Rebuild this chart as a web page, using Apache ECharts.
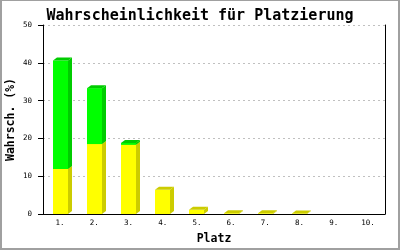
<!DOCTYPE html>
<html><head><meta charset="utf-8">
<script src="https://cdn.jsdelivr.net/npm/echarts@6/dist/echarts.min.js"></script>
<style>html,body{margin:0;padding:0;background:#fff}#c{width:400px;height:250px}</style>
</head><body><div id="c"></div>
<script>
var categories = ['1.', '2.', '3.', '4.', '5.', '6.', '7.', '8.', '9.', '10.'];
var yellowValues = [11.9, 18.5, 18.3, 6.4, 1.1, 0.2, 0.2, 0.15, 0, 0];
var greenValues = [28.7, 14.8, 0.5, 0, 0, 0, 0, 0, 0, 0];
var yTicks = [0, 10, 20, 30, 40, 50];

var FRONT = ['#ffff00', '#00ff00'];
var SIDE = ['#cccc00', '#00cc00'];
var DX = 4, DY = 3;

var data = categories.map(function (c, i) { return [i, yellowValues[i], greenValues[i]]; });

function renderItem(params, api) {
  var i = api.value(0);
  var vals = [api.value(1), api.value(2)];
  var band = api.size([1, 0])[0];
  var w = Math.round(band * 0.44);
  var cx = api.coord([i, 0])[0];
  var x0 = Math.round(cx - w / 2), x1 = x0 + w;
  var children = [];
  var base = 0;
  for (var s = 0; s < 2; s++) {
    var v = vals[s];
    if (!(v > 0)) continue;
    var yb = api.coord([i, base])[1];
    var yt = api.coord([i, base + v])[1];
    children.push({ type: 'rect', shape: { x: x0, y: yt, width: w, height: yb - yt }, style: { fill: FRONT[s] } });
    children.push({ type: 'polygon', shape: { points: [[x1, yb], [x1, yt], [x1 + DX, yt - DY], [x1 + DX, yb - DY]] }, style: { fill: SIDE[s] } });
    children.push({ type: 'polygon', shape: { points: [[x0, yt], [x0 + DX, yt - DY], [x1 + DX, yt - DY], [x1, yt]] }, style: { fill: SIDE[s] } });
    base += v;
  }
  return { type: 'group', children: children };
}

var chart = echarts.init(document.getElementById('c'), null, { renderer: 'canvas' });
var MONO = '"DejaVu Sans Mono", "Liberation Mono", monospace';
chart.setOption({
  animation: false,
  backgroundColor: '#ffffff',
  title: {
    text: 'Wahrscheinlichkeit für Platzierung',
    left: 'center', top: 4,
    textStyle: { fontFamily: MONO, fontSize: 15, fontWeight: 'bold', color: '#000' }
  },
  grid: { left: 43, right: 15, top: 25, bottom: 36, containLabel: false, outerBoundsMode: 'none' },
  xAxis: {
    type: 'category', data: categories,
    name: 'Platz', nameLocation: 'middle', nameGap: 19, nameMoveOverlap: false,
    nameTextStyle: { fontFamily: MONO, fontSize: 11.5, fontWeight: 'bold', color: '#000' },
    axisLine: { lineStyle: { color: '#000', width: 1 } },
    axisTick: { show: false },
    axisLabel: { fontFamily: MONO, fontSize: 7.5, color: '#000', margin: 5 }
  },
  yAxis: [{
    type: 'value', min: yTicks[0], max: yTicks[yTicks.length - 1], interval: 10,
    name: 'Wahrsch. (%)', nameLocation: 'middle', nameGap: 26, nameRotate: 90, nameMoveOverlap: false,
    nameTextStyle: { fontFamily: MONO, fontSize: 11.5, fontWeight: 'bold', color: '#000' },
    axisLine: { show: true, lineStyle: { color: '#000', width: 1 } },
    axisTick: { show: true, length: 5, lineStyle: { color: '#000' } },
    axisLabel: { fontFamily: MONO, fontSize: 7.5, color: '#000', margin: 11 },
    splitLine: { show: true, lineStyle: { color: '#c0c0c0', type: [2, 3], width: 1 } }
  }, {
    type: 'value', min: 0, max: 50, interval: 10, position: 'right',
    axisLine: { show: true, lineStyle: { color: '#000', width: 1 } },
    axisTick: { show: false }, axisLabel: { show: false }, splitLine: { show: false }
  }],
  series: [{
    type: 'custom', renderItem: renderItem, data: data,
    encode: { x: 0, y: [1, 2] }
  }],
  graphic: [
    { type: 'rect', shape: { x: 0, y: 0, width: 400, height: 1 }, style: { fill: '#a0a0a0' }, z: 100 },
    { type: 'rect', shape: { x: 0, y: 0, width: 2, height: 250 }, style: { fill: '#a0a0a0' }, z: 100 },
    { type: 'rect', shape: { x: 398, y: 0, width: 2, height: 250 }, style: { fill: '#a0a0a0' }, z: 100 },
    { type: 'rect', shape: { x: 0, y: 248, width: 400, height: 2 }, style: { fill: '#a0a0a0' }, z: 100 }
  ]
});
</script></body></html>
